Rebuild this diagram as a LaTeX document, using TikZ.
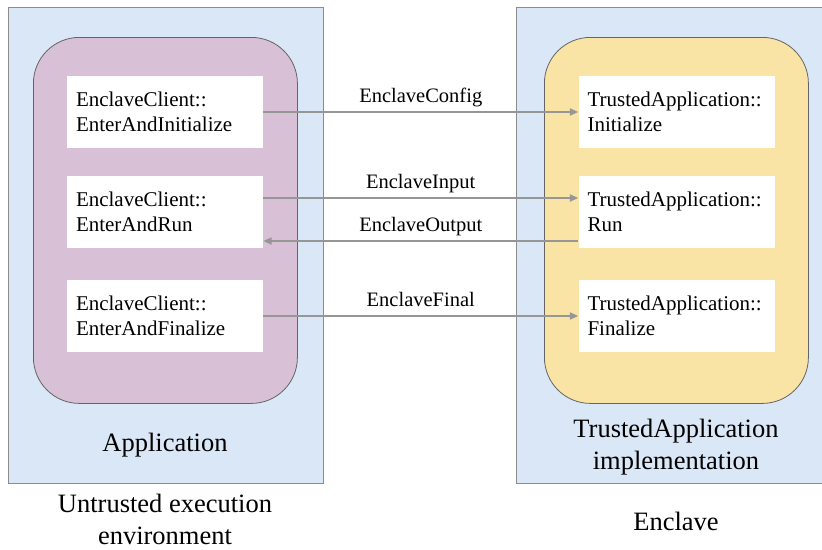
\documentclass[tikz,border=0pt]{standalone}
\usepackage{fontspec}
\setmainfont{Liberation Serif}
\newfontfamily\diagfont{Liberation Serif}
\usetikzlibrary{arrows.meta}

\definecolor{bgblue}{RGB}{218,231,246}
\definecolor{framegray}{RGB}{140,140,140}
\definecolor{appfill}{RGB}{216,193,214}
\definecolor{encfill}{RGB}{249,228,166}
\definecolor{edgegray}{RGB}{100,100,100}
\definecolor{arrowgray}{RGB}{150,150,150}

\begin{document}
\begin{tikzpicture}[x=1pt,y=-1pt,
  zone/.style={draw=framegray, fill=bgblue, line width=1pt, inner sep=0pt,
    anchor=north west, minimum height=476pt},
  container/.style={draw=edgegray, line width=0.8pt, inner sep=0pt,
    anchor=north west, minimum width=264pt, minimum height=366pt,
    rounded corners=46pt},
  callbox/.style={fill=white, inner xsep=9pt, inner ysep=0pt,
    text width=178pt, minimum height=72pt, align=left,
    font=\diagfont\fontsize{21}{25}\selectfont},
  flow/.style={draw=arrowgray, line width=2pt,
    -{Triangle[length=8.5pt,width=7pt]}},
  msg/.style={midway, anchor=base, yshift=9.5pt, inner sep=0pt,
    font=\diagfont\fontsize{20.5}{24}\selectfont},
  caption/.style={align=center, inner sep=0pt,
    font=\diagfont\fontsize{26.5}{32}\selectfont}
]
\useasboundingbox (0,0) rectangle (822,549);
\clip (0,0) rectangle (822,549);
\fill[white] (0,0) rectangle (822,549);

% execution environments
\node[zone, minimum width=315pt] (untrusted) at (8,7) {};
\node[zone, minimum width=312pt] (enclave) at (516,7) {};

% application and trusted implementation
\node[container, fill=appfill] (app) at (33,37) {};
\node[container, fill=encfill] (impl) at (544,37) {};

% client calls
\node[callbox] (c1) at (165,112) {EnclaveClient::\\EnterAndInitialize};
\node[callbox] (c2) at (165,212) {EnclaveClient::\\EnterAndRun};
\node[callbox] (c3) at (165,316) {EnclaveClient::\\EnterAndFinalize};

% trusted entry points
\node[callbox] (t1) at (676.5,112) {TrustedApplication::\\Initialize};
\node[callbox] (t2) at (676.5,212) {TrustedApplication::\\Run};
\node[callbox] (t3) at (676.5,316) {TrustedApplication::\\Finalize};

% messages across the boundary
\draw[flow] (c1.east) -- (t1.west) node[msg] {EnclaveConfig};
\draw[flow] ([yshift=14pt]c2.east) -- ([yshift=14pt]t2.west) node[msg] {EnclaveInput};
\draw[flow] ([yshift=-29pt]t2.west) -- ([yshift=-29pt]c2.east) node[msg] {EnclaveOutput};
\draw[flow] (c3.east) -- (t3.west) node[msg] {EnclaveFinal};

% captions
\node[caption] (applbl) at (165,445) {Application};
\node[caption] (impllbl) at (676,447) {TrustedApplication\\implementation};
\node[caption] (untrlbl) at (165,519) {Untrusted execution\\environment};
\node[caption] (enclbl) at (676,521) {Enclave};
\end{tikzpicture}
\end{document}
